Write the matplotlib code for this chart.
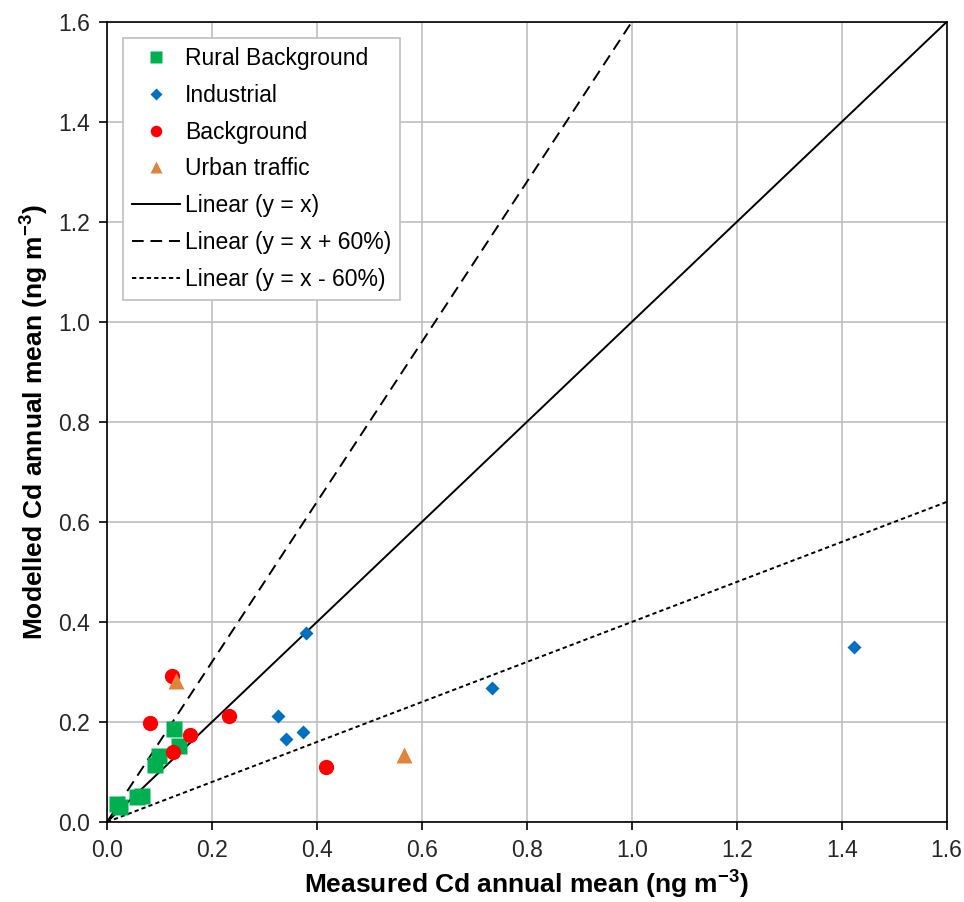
import numpy as np
import matplotlib.pyplot as plt

plt.rcParams['font.family'] = ['Liberation Sans', 'DejaVu Sans']

# measured (x) vs modelled (y), ng m-3
rural_x = [0.020, 0.025, 0.057, 0.066, 0.091, 0.100, 0.128, 0.137]
rural_y = [0.035, 0.030, 0.050, 0.051, 0.114, 0.131, 0.185, 0.151]

ind_x = [0.379, 0.326, 0.341, 0.374, 0.733, 1.423]
ind_y = [0.377, 0.212, 0.165, 0.179, 0.267, 0.350]

bg_x = [0.123, 0.081, 0.159, 0.126, 0.232, 0.418]
bg_y = [0.292, 0.197, 0.174, 0.139, 0.211, 0.109]

urb_x = [0.131, 0.566]
urb_y = [0.281, 0.134]

line_x = np.array([0.0, 1.6])

fig = plt.figure(figsize=(9.64, 9.02), dpi=100)
ax = fig.add_axes([0.111, 0.0887, 0.871, 0.887])

ax.grid(True, color='#BFBFBF', lw=1.2, zorder=0)
ax.set_axisbelow(True)

ax.plot(rural_x, rural_y, 's', color='#00B050', ms=12, mec='none', label='Rural Background', zorder=3)
ax.plot(ind_x, ind_y, 'D', color='#0070C0', ms=7.5, mec='none', label='Industrial', zorder=3)
ax.plot(bg_x, bg_y, 'o', color='#FF0000', ms=11, mec='none', label='Background', zorder=3)
ax.plot(urb_x, urb_y, '^', color='#E0843C', ms=12, mec='none', label='Urban traffic', zorder=3)

ax.plot(line_x, line_x, 'k-', lw=1.4, label='Linear (y = x)', zorder=2)
ax.plot(line_x, line_x * 1.6, 'k', lw=1.4, dashes=(6, 3.5), label='Linear (y = x + 60%)', zorder=2)
ax.plot(line_x, line_x * 0.4, 'k', lw=1.4, dashes=(2.2, 1.6), label='Linear (y = x - 60%)', zorder=2)

ax.set_xlim(0, 1.6)
ax.set_ylim(0, 1.6)
ticks = np.arange(0, 1.61, 0.2)
ax.set_xticks(ticks)
ax.set_yticks(ticks)
ax.set_xticklabels(['%.1f' % t for t in ticks])
ax.set_yticklabels(['%.1f' % t for t in ticks])
ax.tick_params(labelsize=16.5, direction='out', length=6, width=1.2, colors='black',
               labelcolor='#262626', pad=6)
for s in ax.spines.values():
    s.set_linewidth(1.2)

ax.set_xlabel('Measured Cd annual mean (ng m$^{\\mathregular{-3}}$)', fontsize=19, fontweight='bold', labelpad=4)
ax.set_ylabel('Modelled Cd annual mean (ng m$^{\\mathregular{-3}}$)', fontsize=19, fontweight='bold', labelpad=6)

leg = ax.legend(loc='upper left', bbox_to_anchor=(0.019, 0.98), borderaxespad=0, fontsize=16.5,
                fancybox=False, edgecolor='#BFBFBF', framealpha=1, markerscale=0.75,
                handlelength=2.1, labelspacing=0.6, borderpad=0.4, handletextpad=0.2)
leg.get_frame().set_linewidth(1.2)

fig.savefig('out.png', dpi=100)
